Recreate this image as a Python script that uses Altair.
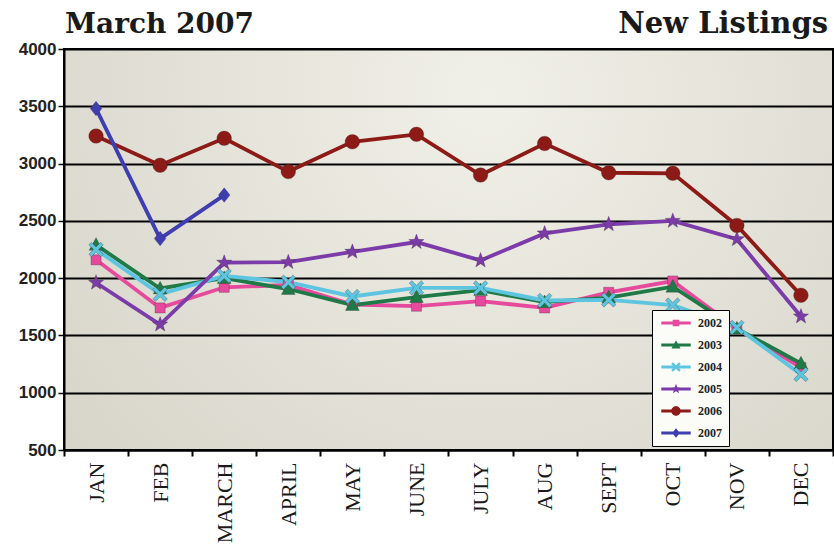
import altair as alt
import pandas as pd

months = ["JAN", "FEB", "MARCH", "APRIL", "MAY", "JUNE", "JULY", "AUG", "SEPT", "OCT", "NOV", "DEC"]
years = ["2002", "2003", "2004", "2005", "2006", "2007"]
y2002 = [2160, 1740, 1920, 1940, 1770, 1755, 1800, 1740, 1876, 1975, 1560, 1220]
y2003 = [2290, 1910, 2000, 1905, 1765, 1835, 1895, 1790, 1830, 1925, 1560, 1255]
y2004 = [2250, 1860, 2020, 1965, 1840, 1915, 1915, 1805, 1810, 1765, 1570, 1160]
y2005 = [1960, 1595, 2135, 2140, 2230, 2315, 2155, 2390, 2470, 2500, 2340, 1665]
y2006 = [3240, 2985, 3220, 2930, 3190, 3255, 2900, 3175, 2920, 2915, 2460, 1850]
y2007 = [3480, 2345, 2725]

colors = ["#e64a9c", "#1f7a47", "#5dc5e0", "#7b3caa", "#8c1a16", "#3e3eb0"]

CIRCLE = "M1,0A1,1,0,1,1,-1,0A1,1,0,1,1,1,0Z"
SQUARE = "M-0.7,-0.7L0.7,-0.7L0.7,0.7L-0.7,0.7Z"
TRIANGLE = "M0,-1L0.95,0.75L-0.95,0.75Z"
DIAMOND = "M0,-1L0.8,0L0,1L-0.8,0Z"
STAR = "M0,-1.1L0.27,-0.37L1.05,-0.34L0.43,0.14L0.65,0.9L0,0.45L-0.65,0.9L-0.43,0.14L-1.05,-0.34L-0.27,-0.37Z"
XSTAR = "M-1,-0.65L-0.65,-1L0,-0.35L0.65,-1L1,-0.65L0.35,0L1,0.65L0.65,1L0,0.35L-0.65,1L-1,0.65L-0.35,0Z"
shapes = [SQUARE, TRIANGLE, XSTAR, STAR, CIRCLE, DIAMOND]
LEG_LINE = "M-3.1,-0.3L3.1,-0.3L3.1,0.3L-3.1,0.3Z "
legend_shapes = [LEG_LINE + s for s in shapes]

rows = []
for yr, vals in zip(years, [y2002, y2003, y2004, y2005, y2006, y2007]):
    for m, v in zip(months, vals):
        rows.append({"month": m, "year": yr, "value": v})
df = pd.DataFrame(rows)

W, H = 769, 401

x_enc = alt.X("month:N", sort=months, bandPosition=0.5,
              scale=alt.Scale(type="band", domain=months, paddingInner=0, paddingOuter=0),
              axis=alt.Axis(title=None, labelAngle=270, labelAlign="right", labelBaseline="middle",
                            labelFont="Liberation Serif", labelFontSize=22, labelColor="#1a1a1a",
                            labelPadding=6, tickBand="extent", tickSize=6, tickColor="black",
                            tickWidth=2, domainColor="black", domainWidth=2, grid=False))
y_enc = alt.Y("value:Q", scale=alt.Scale(domain=[500, 4000], nice=False, zero=False),
              axis=alt.Axis(title=None, values=[500, 1000, 1500, 2000, 2500, 3000, 3500, 4000],
                            format="d",
                            labelFont="Liberation Sans", labelFontWeight="bold", labelFontSize=17,
                            labelColor="#222222", labelPadding=2, tickSize=6, tickColor="black",
                            tickWidth=1.5, domainColor="black", domainWidth=2,
                            grid=True, gridColor="black", gridWidth=2, gridOpacity=1))

color_scale = alt.Scale(domain=years, range=colors)
legend_shape_scale = alt.Scale(domain=years, range=legend_shapes)

legend = alt.Legend(
    title=None, orient="none", legendX=588, legendY=261,
    fillColor="#fbfbf8", strokeColor="black",
    padding=7, symbolOffset=11, labelOffset=16, rowPadding=10,
    labelFont="Liberation Serif", labelFontWeight="bold", labelFontSize=12, labelColor="#222222",
    symbolSize=90, symbolStrokeWidth=0, symbolOpacity=1,
)
view_gradient = {"gradient": "radial", "x1": 0.55, "y1": 0.3, "r1": 0, "x2": 0.55, "y2": 0.3, "r2": 0.85,
                 "stops": [{"offset": 0, "color": "#f1f0e8"}, {"offset": 1, "color": "#d2d0c4"}]}

base = alt.Chart(df)

lines = base.mark_line(strokeWidth=3.8).encode(
    x=x_enc, y=y_enc,
    color=alt.Color("year:N", scale=color_scale, legend=legend),
    detail="year:N",
)

point_layers = []
for yr, col, shp in zip(years, colors, shapes):
    point_layers.append(
        base.transform_filter(alt.datum.year == yr)
        .mark_point(filled=True, size=210, opacity=1, shape=shp, color=col,
                    stroke="#3a2a2a", strokeWidth=0.6, strokeOpacity=0.5)
        .encode(x=x_enc, y=y_enc)
    )

legend_layer = base.mark_point(filled=True, opacity=0).encode(
    x=x_enc, y=y_enc,
    color=alt.Color("year:N", scale=color_scale, legend=legend),
    shape=alt.Shape("year:N", scale=legend_shape_scale, legend=legend),
)

title_left = alt.Chart(pd.DataFrame({"t": ["March 2007"]})).mark_text(
    align="left", baseline="alphabetic", font="DejaVu Serif", fontWeight="bold",
    fontSize=28, color="#1a1a1a"
).encode(text="t:N", x=alt.value(1), y=alt.value(-16))

title_right = alt.Chart(pd.DataFrame({"t": ["New Listings"]})).mark_text(
    align="right", baseline="alphabetic", font="DejaVu Serif", fontWeight="bold",
    fontSize=29, color="#1a1a1a"
).encode(text="t:N", x=alt.value(764), y=alt.value(-16))

chart = alt.layer(lines, *point_layers, legend_layer, title_left, title_right).properties(
    width=W, height=H,
    autosize=alt.AutoSizeParams(type="none"),
    padding={"left": 64, "top": 49, "right": 1, "bottom": 104},
    background="white",
).configure_view(
    stroke="black", strokeWidth=2, fill="#e6e4da",
)

_orig_to_dict = chart.to_dict


def _patched_to_dict(*args, **kwargs):
    d = _orig_to_dict(*args, **kwargs)
    d.setdefault("config", {}).setdefault("view", {})["fill"] = view_gradient
    return d


object.__setattr__(chart, "to_dict", _patched_to_dict)

chart.save("out.html", embed_options={"renderer": "svg", "actions": False})
